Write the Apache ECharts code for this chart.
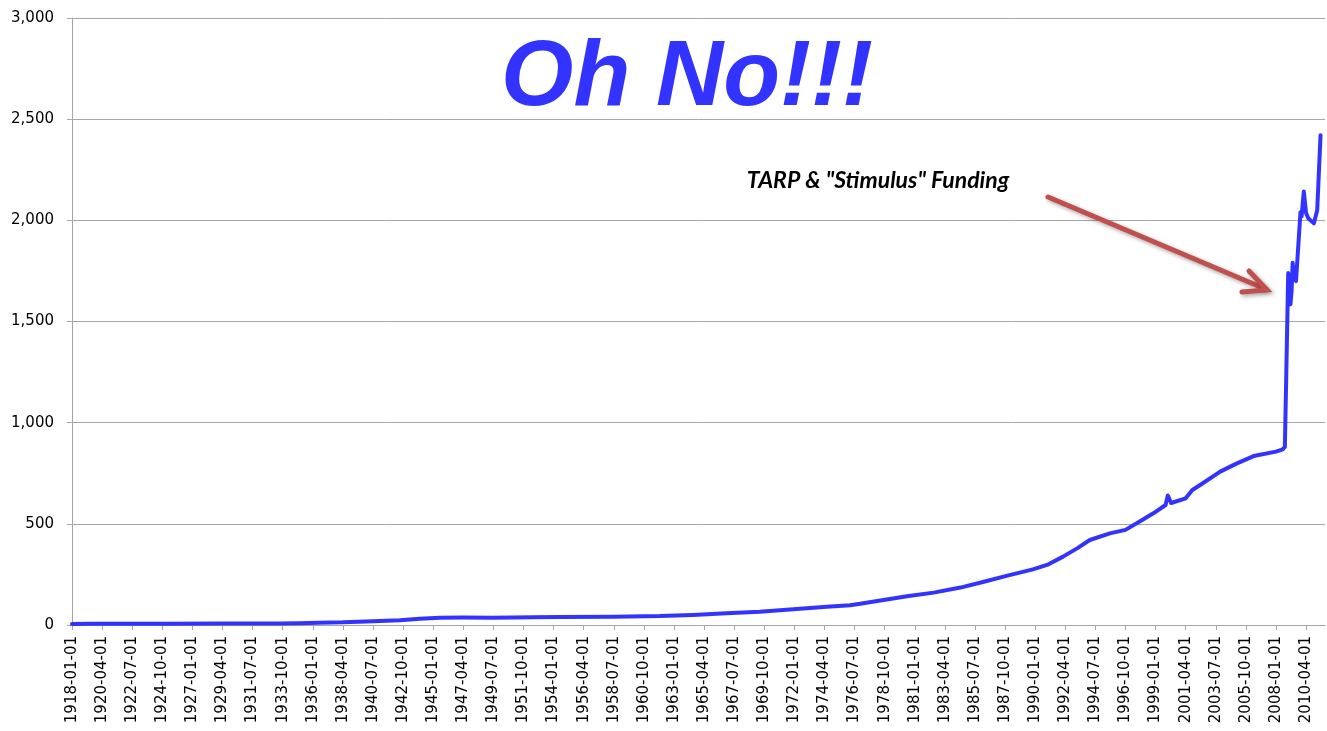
<!DOCTYPE html>
<html>
<head>
<meta charset="utf-8">
<script src="https://cdn.jsdelivr.net/npm/echarts@6/dist/echarts.min.js"></script>
<style>
html,body{margin:0;padding:0;background:#fff;}
#chart{width:1327px;height:731px;}
</style>
</head>
<body>
<div id="chart"></div>
<script>
// Axis range (monthly categories)
const startYear = 1918, startMonth = 1;
const endYear = 2011, endMonth = 9;

const keyMonths = [
  '1918-01','1919-06','1920-09','1922-01','1925-01','1929-01','1931-06','1933-06',
  '1935-01','1936-06','1938-04','1939-06','1940-07','1942-07','1944-01','1945-07',
  '1947-04','1949-06','1952-06','1954-07','1958-07','1961-12','1964-06','1966-12',
  '1969-06','1971-12','1974-06','1976-03','1976-12','1978-09','1980-06','1982-06',
  '1984-06','1986-03','1988-01','1989-11','1991-01','1992-02','1993-03','1994-02',
  '1995-08','1996-10','1998-01','1998-11','1999-10','1999-12','2000-03','2001-04',
  '2001-10','2002-05','2003-11','2005-02','2006-05','2008-01','2008-07','2008-09',
  '2008-12','2009-01','2009-02','2009-03','2009-04','2009-05','2009-07','2009-11',
  '2009-12','2010-02','2010-04','2010-06','2010-11','2011-02','2011-05'
];
const keyValues = [
  5, 6, 6.5, 6, 6.5, 7, 7.5, 8,
  9, 11, 13, 16, 19, 23, 31, 36,
  37, 36, 38, 39, 41, 44, 50, 58,
  66, 78, 90, 98, 105, 124, 142, 160,
  185, 214, 245, 275, 300, 338, 380, 420,
  453, 470, 519, 552, 593, 640, 603, 626,
  667, 692, 758, 799, 835, 857, 868, 880,
  1740, 1700, 1585, 1650, 1790, 1720, 1700, 2040,
  2020, 2142, 2036, 2010, 1985, 2050, 2420
];

const yTicks = [0, 500, 1000, 1500, 2000, 2500, 3000];
const titleText = 'Oh No!!!';
const noteText = 'TARP & "Stimulus" Funding';

// Build monthly category labels
const categories = [];
const monthKeys = [];
for (let y = startYear, m = startMonth; y < endYear || (y === endYear && m <= endMonth); ) {
  const mm = (m < 10 ? '0' : '') + m;
  categories.push(y + '-' + mm + '-01');
  monthKeys.push(y + '-' + mm);
  m++; if (m > 12) { m = 1; y++; }
}
const lookup = {};
keyMonths.forEach((k, i) => { lookup[k] = keyValues[i]; });
const seriesData = monthKeys.map(k => (k in lookup ? lookup[k] : null));

const chart = echarts.init(document.getElementById('chart'), null, {renderer: 'canvas'});
const gray = '#A6A6A6';
chart.setOption({
  animation: false,
  backgroundColor: '#ffffff',
  grid: {left: 72, right: 2, top: 18, bottom: 106, containLabel: false},
  xAxis: {
    type: 'category',
    data: categories,
    boundaryGap: false,
    axisLine: {show: true, lineStyle: {color: gray, width: 1}},
    axisTick: {show: true, interval: 26, length: 5, lineStyle: {color: gray}},
    axisLabel: {
      interval: 26, rotate: 90, margin: 11,
      fontFamily: 'DejaVu Sans', fontSize: 15, color: '#000'
    },
    splitLine: {show: false}
  },
  yAxis: {
    type: 'value',
    min: yTicks[0], max: yTicks[yTicks.length - 1], interval: 500,
    axisLine: {show: true, lineStyle: {color: gray, width: 1}},
    axisTick: {show: true, length: 5, lineStyle: {color: gray}},
    axisLabel: {
      margin: 18, fontFamily: 'DejaVu Sans', fontSize: 15, color: '#000',
      formatter: v => v.toLocaleString('en-US')
    },
    splitLine: {show: true, lineStyle: {color: gray, width: 1}}
  },
  series: [{
    type: 'line',
    data: seriesData,
    connectNulls: true,
    showSymbol: false,
    lineStyle: {color: '#3333FF', width: 4, cap: 'round', join: 'round'},
    itemStyle: {color: '#3333FF'},
    z: 3
  }],
  graphic: [
    {
      type: 'text', x: 687, y: 79, z: 10,
      style: {
        text: titleText, fill: '#3333FF',
        font: 'italic bold 93px "Liberation Sans", Arial, sans-serif',
        textAlign: 'center', textVerticalAlign: 'middle'
      }
    },
    {
      type: 'text', x: 878, y: 181, z: 10,
      style: {
        text: noteText, fill: '#000',
        font: 'italic bold 23px Lato, "Open Sans", sans-serif',
        textAlign: 'center', textVerticalAlign: 'middle'
      }
    },
    {
      type: 'polyline', z: 9,
      shape: {points: [[1048, 197], [1263, 288]]},
      style: {stroke: '#C0504D', lineWidth: 5, lineCap: 'round',
        shadowBlur: 4, shadowColor: 'rgba(0,0,0,0.35)', shadowOffsetX: 2, shadowOffsetY: 2}
    },
    {
      type: 'polyline', z: 9,
      shape: {points: [[1249, 271], [1267, 290], [1242, 292]]},
      style: {stroke: '#C0504D', lineWidth: 5, lineCap: 'round', lineJoin: 'miter',
        shadowBlur: 4, shadowColor: 'rgba(0,0,0,0.35)', shadowOffsetX: 2, shadowOffsetY: 2}
    }
  ]
});
</script>
</body>
</html>
